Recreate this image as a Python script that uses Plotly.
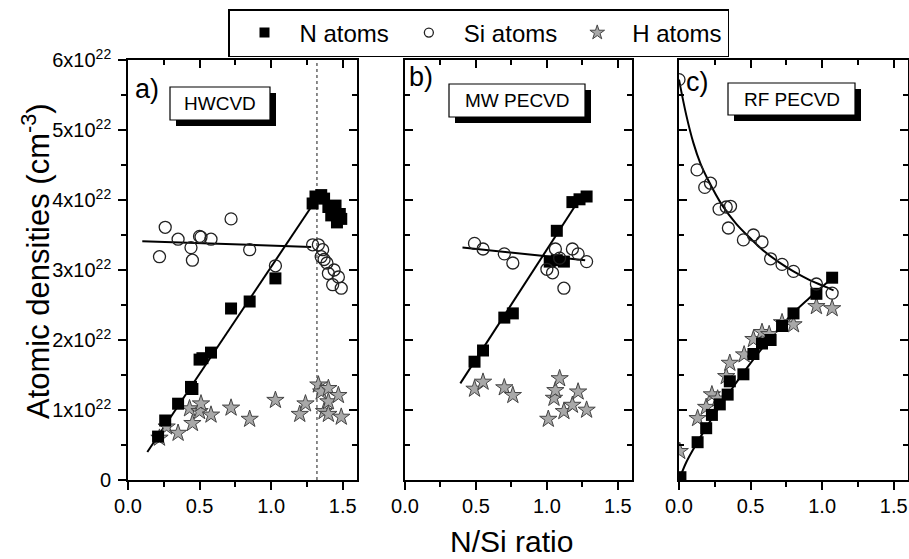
import plotly.graph_objects as go

# ---------------- data (densities in units of 1e22 cm^-3) ----------------
a_n_x = [0.21, 0.26, 0.35, 0.44, 0.45, 0.50, 0.52, 0.58, 0.72, 0.85, 1.03, 1.29, 1.31, 1.35, 1.37, 1.40, 1.42, 1.45, 1.46, 1.48, 1.49]
a_n_y = [0.62, 0.85, 1.09, 1.33, 1.30, 1.72, 1.74, 1.82, 2.45, 2.55, 2.88, 3.95, 4.05, 4.07, 4.02, 3.90, 3.78, 3.92, 3.68, 3.80, 3.73]
a_si_x = [0.22, 0.26, 0.35, 0.44, 0.45, 0.50, 0.51, 0.58, 0.72, 0.85, 1.03, 1.29, 1.33, 1.35, 1.36, 1.37, 1.39, 1.40, 1.43, 1.44, 1.47, 1.49]
a_si_y = [3.19, 3.61, 3.44, 3.32, 3.14, 3.48, 3.47, 3.44, 3.73, 3.29, 3.06, 3.36, 3.36, 3.19, 3.29, 3.15, 3.10, 2.95, 2.79, 3.00, 2.90, 2.74]
a_h_x = [0.22, 0.27, 0.35, 0.43, 0.45, 0.50, 0.51, 0.58, 0.72, 0.85, 1.03, 1.20, 1.24, 1.33, 1.35, 1.37, 1.40, 1.40, 1.40, 1.47, 1.49]
a_h_y = [0.60, 0.76, 0.67, 1.02, 0.81, 0.98, 1.09, 0.93, 1.03, 0.87, 1.14, 0.94, 1.09, 1.36, 1.26, 0.98, 1.31, 1.12, 0.94, 1.21, 0.90]
a_nfit_x = [0.135, 1.28]
a_nfit_y = [0.40, 3.90]
a_sifit_x = [0.10, 1.28]
a_sifit_y = [3.41, 3.33]
a_threshold_x = 1.32

b_n_x = [0.49, 0.55, 0.70, 0.76, 1.02, 1.07, 1.07, 1.12, 1.18, 1.23, 1.28]
b_n_y = [1.69, 1.85, 2.32, 2.38, 3.12, 3.14, 3.56, 3.12, 3.97, 4.01, 4.05]
b_si_x = [0.49, 0.55, 0.70, 0.76, 1.00, 1.04, 1.06, 1.09, 1.12, 1.18, 1.22, 1.28]
b_si_y = [3.38, 3.30, 3.23, 3.10, 3.01, 2.96, 3.30, 3.17, 2.74, 3.30, 3.23, 3.12]
b_h_x = [0.49, 0.55, 0.70, 0.76, 1.01, 1.05, 1.06, 1.09, 1.12, 1.18, 1.22, 1.28]
b_h_y = [1.30, 1.40, 1.32, 1.21, 0.87, 1.17, 1.28, 1.45, 0.98, 1.07, 1.26, 1.00]
b_nfit_x = [0.39, 1.21]
b_nfit_y = [1.38, 3.95]
b_sifit_x = [0.405, 1.27]
b_sifit_y = [3.32, 3.14]

c_n_x = [0.01, 0.13, 0.19, 0.23, 0.285, 0.34, 0.355, 0.45, 0.52, 0.58, 0.64, 0.72, 0.80, 0.96, 1.07]
c_n_y = [0.04, 0.54, 0.74, 0.93, 1.08, 1.22, 1.41, 1.51, 1.80, 1.95, 2.00, 2.20, 2.38, 2.66, 2.89]
c_si_x = [0.0, 0.126, 0.18, 0.22, 0.28, 0.33, 0.345, 0.36, 0.45, 0.52, 0.58, 0.64, 0.72, 0.80, 0.96, 1.07]
c_si_y = [5.72, 4.43, 4.18, 4.24, 3.87, 3.90, 3.60, 3.91, 3.43, 3.50, 3.40, 3.16, 3.08, 2.98, 2.80, 2.67]
c_h_x = [0.005, 0.13, 0.19, 0.23, 0.27, 0.33, 0.355, 0.455, 0.52, 0.58, 0.63, 0.72, 0.80, 0.96, 1.07]
c_h_y = [0.41, 0.88, 1.04, 1.22, 1.16, 1.48, 1.67, 1.79, 2.01, 2.11, 2.08, 2.25, 2.22, 2.48, 2.45]
c_nfit_x = [0.0, 0.05, 0.10, 0.20, 0.30, 0.40, 0.50, 0.60, 0.70, 0.80, 0.90, 1.00, 1.08]
c_nfit_y = [0.0, 0.25, 0.44, 0.78, 1.10, 1.39, 1.67, 1.93, 2.17, 2.39, 2.58, 2.76, 2.90]
c_sifit_x = [0.0, 0.05, 0.10, 0.15, 0.20, 0.30, 0.40, 0.50, 0.60, 0.70, 0.80, 0.90, 1.00, 1.08]
c_sifit_y = [5.72, 5.22, 4.82, 4.52, 4.30, 3.93, 3.66, 3.45, 3.26, 3.11, 2.98, 2.87, 2.78, 2.71]

panel_letters = ["a)", "b)", "c)"]
panel_methods = ["HWCVD", "MW PECVD", "RF PECVD"]
series_names = ["N atoms", "Si atoms", "H atoms"]
y_tickvals = [0, 1, 2, 3, 4, 5, 6]
y_ticktext = ["0"] + [f"{v}x10<sup>22</sup>" for v in y_tickvals[1:]]
x_range = [0, 1.6]
y_range = [0, 6]

FONT = "Arial, Liberation Sans, sans-serif"
SQ = dict(symbol="square", size=12, color="black")
CI = dict(symbol="circle-open", size=12, color="#222", line=dict(width=1.3))
ST = dict(symbol="star", size=13, color="#a8a8a8", line=dict(width=1, color="#444"))
LINE = dict(color="black", width=2)

panels = [
    (a_n_x, a_n_y, a_si_x, a_si_y, a_h_x, a_h_y, [(a_nfit_x, a_nfit_y), (a_sifit_x, a_sifit_y)]),
    (b_n_x, b_n_y, b_si_x, b_si_y, b_h_x, b_h_y, [(b_nfit_x, b_nfit_y), (b_sifit_x, b_sifit_y)]),
    (c_n_x, c_n_y, c_si_x, c_si_y, c_h_x, c_h_y, [(c_nfit_x, c_nfit_y), (c_sifit_x, c_sifit_y)]),
]

fig = go.Figure()
for i, (nx, ny, sx, sy, hx, hy, fits) in enumerate(panels):
    xa = "x" if i == 0 else f"x{i+1}"
    ya = "y" if i == 0 else f"y{i+1}"
    for fx, fy in fits:
        fig.add_trace(go.Scatter(x=fx, y=fy, mode="lines", line=dict(LINE, shape="spline"),
                                 xaxis=xa, yaxis=ya, showlegend=False, hoverinfo="skip"))
    fig.add_trace(go.Scatter(x=hx, y=hy, mode="markers", marker=ST, xaxis=xa, yaxis=ya, showlegend=False))
    fig.add_trace(go.Scatter(x=nx, y=ny, mode="markers", marker=SQ, xaxis=xa, yaxis=ya, showlegend=False))
    fig.add_trace(go.Scatter(x=sx, y=sy, mode="markers", marker=CI, xaxis=xa, yaxis=ya, showlegend=False))
    # overlay axes (top/right inward ticks)
    fig.add_trace(go.Scatter(x=[None], y=[None], xaxis=f"x{i+4}", yaxis=f"y{i+4}",
                             showlegend=False, hoverinfo="skip"))

# legend entries
for name, mk in zip(series_names, [dict(SQ, size=10), dict(CI, size=9), dict(ST, size=11)]):
    fig.add_trace(go.Scatter(x=[None], y=[None], mode="markers", marker=mk, name=name))

L, R, T, B = 128, 1, 60, 79
W, H = 909, 559
pw = W - L - R
px_dom = [(128, 357), (405, 632), (679, 908)]
domains = [((a - L) / pw, (b - L) / pw) for a, b in px_dom]

axis_common = dict(showline=True, linecolor="black", linewidth=1.6, showgrid=False, zeroline=False,
                   tickcolor="black", tickwidth=1.6, ticklen=8, mirror=False)
layout = dict(width=W, height=H, margin=dict(l=L, r=R, t=T, b=B, autoexpand=False), plot_bgcolor="white",
              paper_bgcolor="white", font=dict(family=FONT, color="black"))
for i, dom in enumerate(domains):
    sfx = "" if i == 0 else str(i + 1)
    ysfx = "y" if i == 0 else f"y{i+1}"
    xsfx = "x" if i == 0 else f"x{i+1}"
    layout[f"xaxis{sfx}"] = dict(axis_common, domain=list(dom), range=x_range, anchor=ysfx,
                                 tickmode="linear", tick0=0, dtick=0.5, tickformat=".1f",
                                 ticks="outside", tickfont=dict(size=20), automargin=False,
                                 ticklabelstandoff=-1,
                                 minor=dict(dtick=0.25, ticks="outside", ticklen=5, tickwidth=1.6, tickcolor="black"))
    layout[f"yaxis{sfx}"] = dict(axis_common, domain=[0, 1], range=y_range, anchor=xsfx,
                                 tickmode="array", tickvals=y_tickvals, ticktext=y_ticktext,
                                 ticks="outside" if i == 0 else "inside", automargin=False,
                                 showticklabels=(i == 0), tickfont=dict(size=20), ticklabelstandoff=3,
                                 minor=dict(dtick=0.5, tick0=0, ticks="outside" if i == 0 else "inside",
                                            ticklen=5, tickwidth=1.6, tickcolor="black"))
    layout[f"xaxis{i+4}"] = dict(axis_common, range=x_range, overlaying=xsfx, side="top", anchor=f"y{i+4}",
                                 tickmode="linear", tick0=0, dtick=0.5, ticks="inside", showticklabels=False,
                                 minor=dict(dtick=0.25, ticks="inside", ticklen=5, tickwidth=1.6, tickcolor="black"))
    layout[f"yaxis{i+4}"] = dict(axis_common, range=y_range, overlaying=ysfx, side="right", anchor=f"x{i+4}",
                                 tickmode="linear", tick0=0, dtick=1, ticks="inside", showticklabels=False,
                                 minor=dict(dtick=0.5, ticks="inside", ticklen=5, tickwidth=1.6, tickcolor="black"))

layout["legend"] = dict(orientation="h", x=(228 - L) / pw, y=1 + (T - 9) / (H - T - B), xanchor="left",
                        yanchor="top", bordercolor="black", borderwidth=1.5, bgcolor="white",
                        font=dict(size=24, family=FONT), itemwidth=60)
fig.update_layout(**layout)

# dotted vertical guide in panel a
fig.add_shape(type="line", xref="x", yref="y domain", x0=a_threshold_x, x1=a_threshold_x, y0=0, y1=1,
              line=dict(color="#666", width=1.5, dash="dot"), layer="below")

# method labels with drop shadow
boxes = [(170, 270, 87, 120), (449, 585, 84, 117), (728, 855, 83, 115)]
letter_pos = [(133, 72), (407, 60), (684, 65)]
ph = H - T - B
for i, ((x0, x1, y0, y1), (lx, ly)) in enumerate(zip(boxes, letter_pos)):
    xs = "x" if i == 0 else f"x{i+1}"
    ys = "y" if i == 0 else f"y{i+1}"
    d0, d1 = px_dom[i]
    wdt = d1 - d0
    fx = lambda p: (p - d0) / wdt
    fy = lambda p: (H - B - p) / ph
    fig.add_shape(type="rect", xref=f"{xs} domain", yref=f"{ys} domain",
                  x0=fx(x0 + 6), x1=fx(x1 + 6), y0=fy(y1 + 6), y1=fy(y0 + 6),
                  fillcolor="black", line=dict(width=0))
    fig.add_shape(type="rect", xref=f"{xs} domain", yref=f"{ys} domain",
                  x0=fx(x0), x1=fx(x1), y0=fy(y1), y1=fy(y0),
                  fillcolor="white", line=dict(color="black", width=1.2))
    fig.add_annotation(xref=f"{xs} domain", yref=f"{ys} domain", x=fx((x0 + x1) / 2), y=fy((y0 + y1) / 2),
                       text=panel_methods[i], showarrow=False, font=dict(size=19, family=FONT),
                       xanchor="center", yanchor="middle")
    fig.add_annotation(xref=f"{xs} domain", yref=f"{ys} domain", x=fx(lx), y=fy(ly),
                       text=panel_letters[i], showarrow=False, font=dict(size=27, family=FONT),
                       xanchor="left", yanchor="top")

# axis titles
fig.add_annotation(xref="paper", yref="paper", x=(36 - L) / pw, y=(H - B - 261) / ph,
                   text="Atomic densities (cm<sup>-3</sup>)", textangle=-90, showarrow=False,
                   font=dict(size=31, family=FONT), xanchor="center", yanchor="middle")
fig.add_annotation(xref="paper", yref="paper", x=(511 - L) / pw, y=(H - B - 541) / ph,
                   text="N/Si ratio", showarrow=False, font=dict(size=30, family=FONT),
                   xanchor="center", yanchor="middle")

fig.write_html("out.html", config={"displayModeBar": False},
               post_script="document.body.style.margin='0px';document.body.style.overflow='hidden';")
